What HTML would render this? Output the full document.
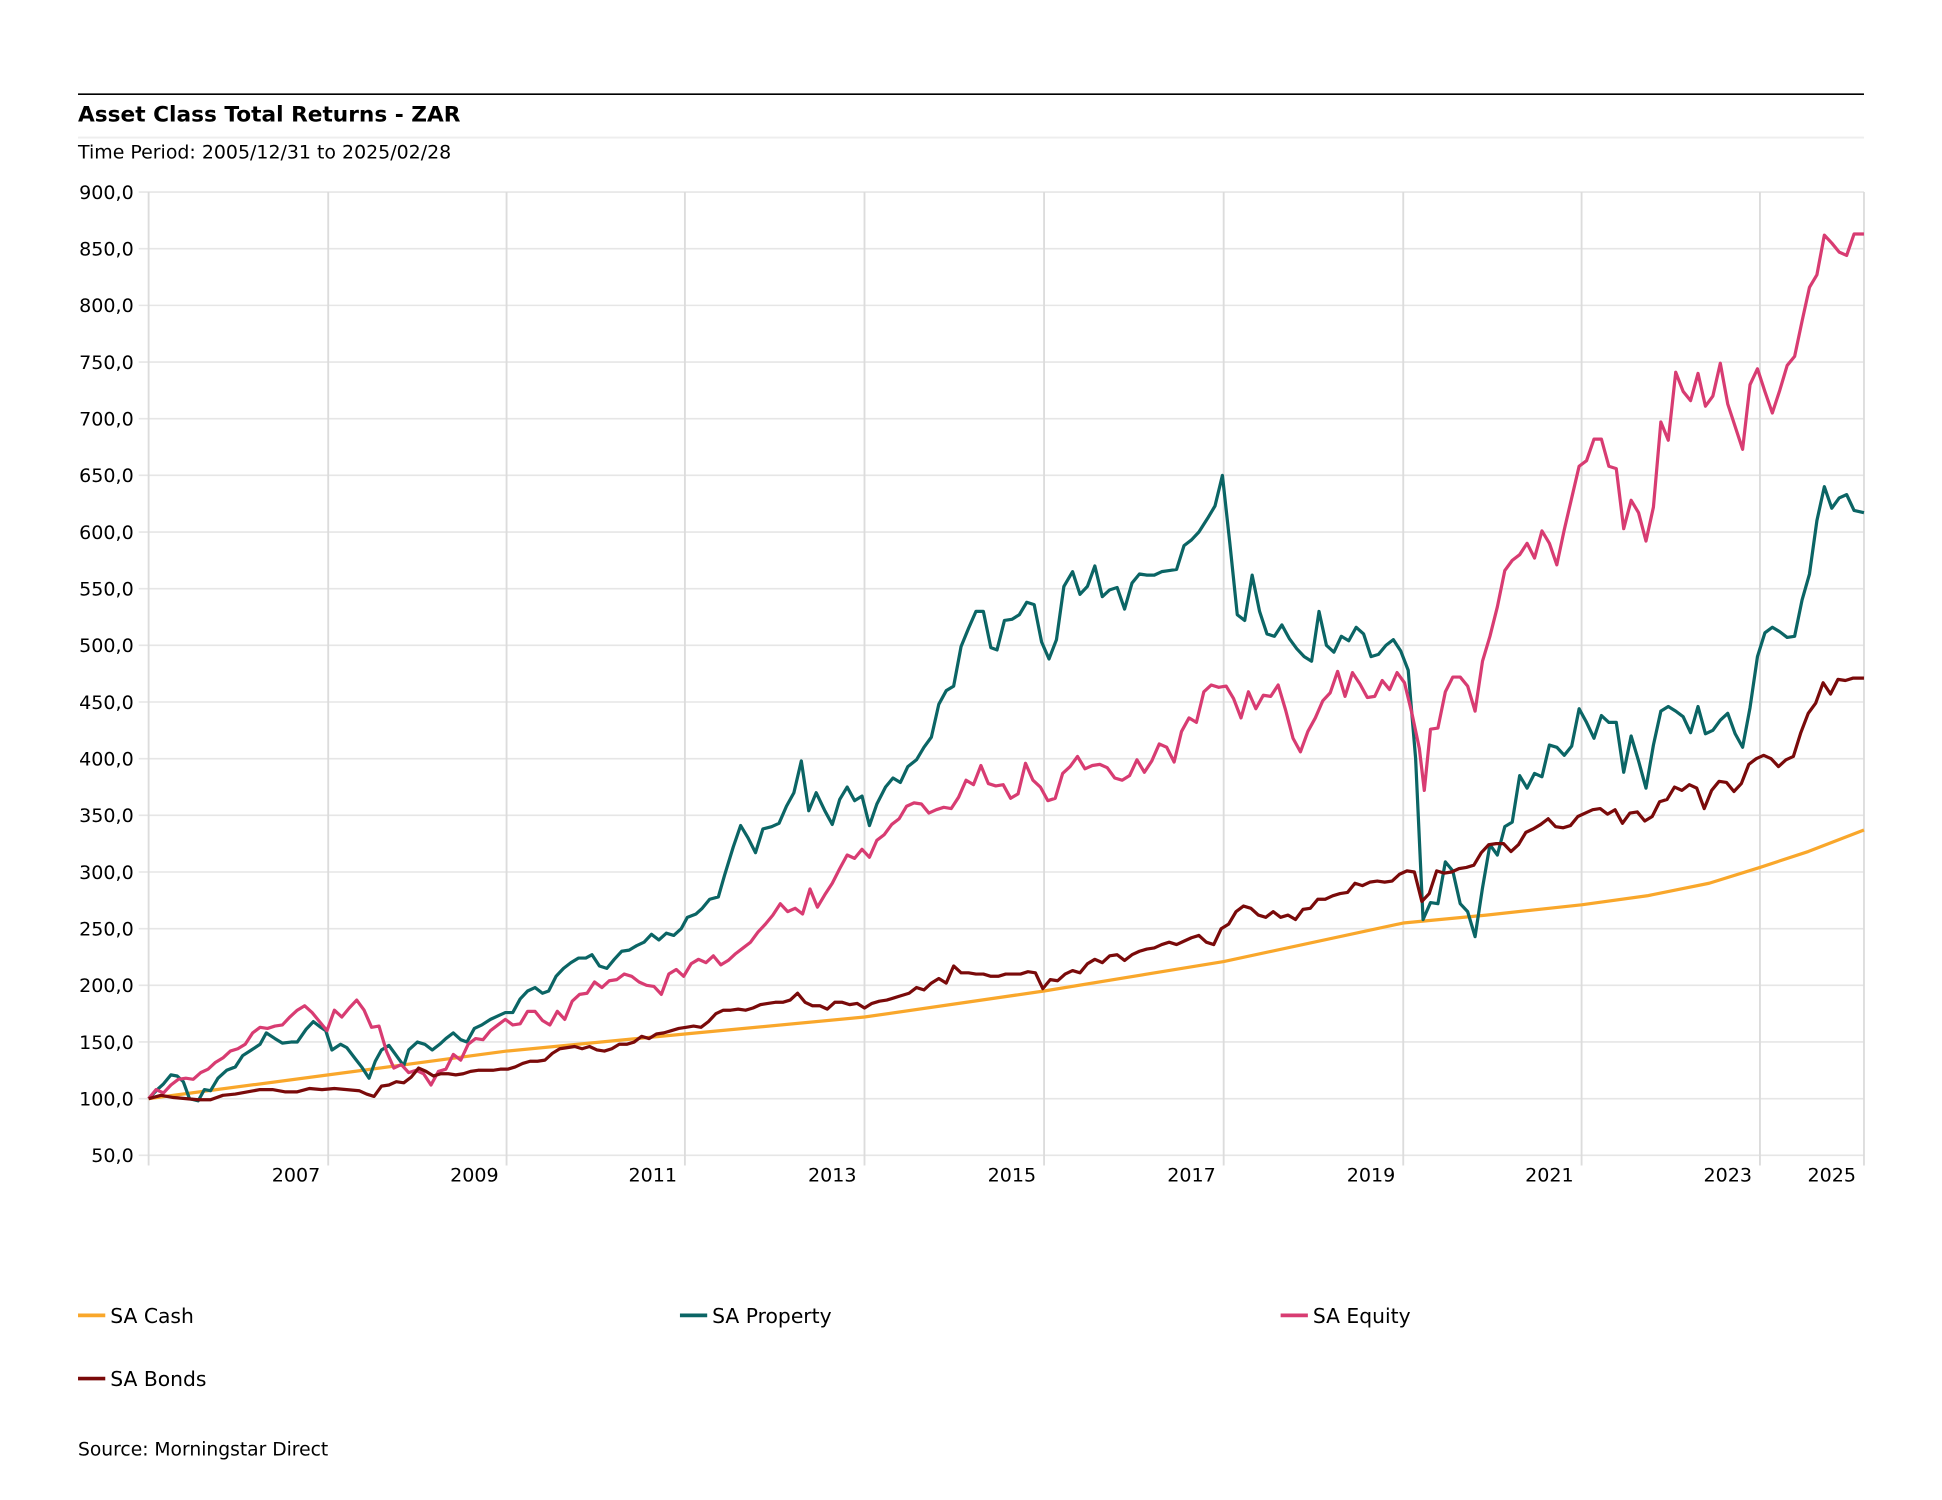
<!DOCTYPE html>
<html><head><meta charset="utf-8">
<style>
html,body{margin:0;padding:0;background:#fff;}
svg{display:block;}
text{font-family:"DejaVu Sans","Liberation Sans",sans-serif;fill:#000;}
</style></head>
<body>
<svg id="c" width="1942" height="1500" viewBox="0 0 1568 1211" xmlns="http://www.w3.org/2000/svg">
<line x1="63" y1="76" x2="1505" y2="76" stroke="#000" stroke-width="1.3"/>
<text x="63" y="98" font-size="17.5" font-weight="bold">Asset Class Total Returns - ZAR</text>
<line x1="63" y1="111" x2="1505" y2="111" stroke="#eee" stroke-width="1.5"/>
<text x="63" y="128" font-size="15.3">Time Period: 2005/12/31 to 2025/02/28</text>
<g id="grid"></g>
<g id="lines" fill="none" stroke-width="2.6" stroke-linejoin="round"></g>
<g font-size="16.4">
<line x1="63" y1="1062" x2="85" y2="1062" stroke="#F9A72B" stroke-width="3"/><text x="89" y="1068">SA Cash</text>
<line x1="549" y1="1062" x2="571" y2="1062" stroke="#0B6565" stroke-width="3"/><text x="575" y="1068">SA Property</text>
<line x1="1034" y1="1062" x2="1056" y2="1062" stroke="#D83C72" stroke-width="3"/><text x="1060" y="1068">SA Equity</text>
<line x1="63" y1="1113" x2="85" y2="1113" stroke="#7A0A0A" stroke-width="3"/><text x="89" y="1119">SA Bonds</text>
</g>
<text x="63" y="1175" font-size="15.1">Source: Morningstar Direct</text>
</svg>
<script>
function Y(v){return 887-(v-100)*0.915;}
var g=document.getElementById('grid'),h='';
for(var v=50;v<=900;v+=50){var y=Y(v);
h+='<line x1="112" y1="'+y+'" x2="1505" y2="'+y+'" stroke="#e6e6e6" stroke-width="1.3"/>';
h+='<text x="108" y="'+(y+5.5)+'" font-size="15.4" text-anchor="end">'+v+',0</text>';}
var gx=[120,265,409,553,698,843,988,1133,1277,1421,1505];
gx.forEach(function(x){h+='<line x1="'+x+'" y1="155" x2="'+x+'" y2="941" stroke="#dcdcdc" stroke-width="1.5"/>';});
var lab=[[239,'2007'],[383,'2009'],[527,'2011'],[672,'2013'],[817,'2015'],[962,'2017'],[1107,'2019'],[1251,'2021'],[1395,'2023'],[1479,'2025']];
lab.forEach(function(l){h+='<text x="'+l[0]+'" y="954" font-size="15.4" text-anchor="middle">'+l[1]+'</text>';});
g.innerHTML=h;
function P(s,c){var a=s.trim().split(/[ ,]+/).map(Number),p=[];for(var i=0;i<a.length;i+=2)p.push(a[i]+','+Y(a[i+1]).toFixed(1));
return '<polyline stroke="'+c+'" points="'+p.join(' ')+'"/>';}
var cash="120 100,265 121,409 142,553 157,698 172,843 195,988 221,1133 255,1200 262,1277 271,1330 279,1380 290,1421 304,1460 318,1505 337";
var prop="120 100,127 108,132 113,138 121,143 120,148 115,153 100,160 98,165 108,170 107,176 118,183 125,190 128,196 138,203 143,210 148,215 158,222 153,228 149,235 150,240 150,247 161,253 168,259 163,263 160,268 143,275 148,280 145,287 135,292 128,298 118,303 133,308 143,314 147,320 138,326 129,330 143,337 150,343 148,349 143,355 148,360 153,366 158,372 152,377 150,383 162,389 165,396 170,402 173,408 176,414 176,420 188,426 195,432 198,438 193,443 195,449 208,455 215,461 220,467 224,473 224,478 227,484 217,490 215,496 223,502 230,508 231,514 235,520 238,526 245,532 240,538 246,544 244,550 250,555 260,562 263,567 268,573 276,580 278,585 297,592 322,598 341,604 330,610 317,616 338,623 340,629 343,635 358,641 370,647 398,653 354,659 370,666 354,672 342,678 364,684 375,690 363,696 367,702 341,708 360,715 375,721 383,727 379,733 393,740 399,746 410,752 419,758 448,764 460,770 464,776 499,782 515,788 530,794 530,800 498,805 496,811 522,817 523,823 527,829 538,835 536,841 503,847 488,853 505,859 552,866 565,872 545,878 552,884 570,890 543,896 549,902 551,908 532,914 555,920 563,926 562,932 562,938 565,944 566,950 567,956 588,962 593,968 600,975 612,981 623,987 650,993 590,999 527,1005 522,1011 562,1017 530,1023 510,1029 508,1035 518,1041 506,1047 497,1053 490,1059 486,1065 530,1071 500,1077 494,1083 508,1089 504,1095 516,1101 510,1107 490,1113 492,1119 500,1125 505,1131 495,1137 478,1143 400,1149 258,1155 273,1161 272,1167 309,1173 301,1179 272,1185 265,1191 243,1197 286,1203 324,1209 315,1215 340,1221 344,1227 385,1233 374,1239 387,1245 384,1251 412,1257 410,1263 403,1269 411,1275 444,1281 432,1287 418,1293 438,1299 432,1305 432,1311 388,1317 420,1323 398,1329 374,1335 412,1341 442,1347 446,1353 442,1359 437,1365 423,1371 446,1377 422,1383 425,1389 434,1395 440,1401 422,1407 410,1413 445,1419 490,1425 511,1431 516,1437 512,1443 507,1449 508,1455 540,1461 563,1467 610,1473 640,1479 621,1485 630,1491 633,1497 619,1505 617";
var eq="120 100,126 108,132 105,138 112,144 117,150 118,156 117,162 123,168 126,174 132,180 136,186 142,192 144,198 148,204 158,210 163,216 162,222 164,228 165,234 172,240 178,246 182,252 176,258 168,264 160,270 178,276 172,282 180,288 187,294 178,300 163,306 164,312 142,318 127,324 130,330 123,336 125,342 122,348 112,354 124,360 126,366 139,372 134,378 148,384 153,390 152,396 160,402 165,408 170,414 165,420 166,426 177,432 177,438 169,444 165,450 177,456 170,462 186,468 192,474 193,480 203,486 198,492 204,498 205,504 210,510 208,516 203,522 200,528 199,534 192,540 210,546 214,552 208,558 219,564 223,570 220,576 226,582 218,588 222,594 228,600 233,606 238,612 247,618 254,624 262,630 272,636 265,642 268,648 263,654 285,660 269,666 280,672 290,678 303,684 315,690 312,696 320,702 313,708 328,714 333,720 342,726 347,732 358,738 361,744 360,750 352,756 355,762 357,768 356,774 366,780 381,786 377,792 394,798 378,804 376,810 377,816 365,822 369,828 396,834 381,840 375,846 363,852 365,858 387,864 393,870 402,876 391,882 394,888 395,894 392,900 383,906 381,912 385,918 399,924 388,930 398,936 413,942 410,948 397,954 424,960 436,966 432,972 459,978 465,984 463,990 464,996 453,1002 436,1008 459,1014 444,1020 456,1026 455,1032 465,1038 443,1044 418,1050 406,1056 424,1062 436,1068 451,1074 458,1080 477,1086 455,1092 476,1098 466,1104 454,1110 455,1116 469,1122 461,1128 476,1134 467,1140 440,1146 409,1150 372,1155 426,1161 427,1167 459,1173 472,1179 472,1185 464,1191 442,1197 486,1203 508,1209 534,1215 566,1221 575,1227 580,1233 590,1239 577,1245 601,1251 590,1257 571,1263 602,1269 630,1275 658,1281 663,1287 682,1293 682,1299 658,1305 656,1311 603,1317 628,1323 617,1329 592,1335 622,1341 697,1347 681,1353 741,1359 724,1365 716,1371 740,1377 711,1383 720,1389 749,1395 713,1401 693,1407 673,1413 730,1419 744,1425 724,1431 705,1437 725,1443 747,1449 755,1455 786,1461 816,1467 827,1473 862,1479 855,1485 847,1491 844,1497 863,1505 863";
var bd="120 100,130 103,140 101,150 100,160 99,170 99,180 103,190 104,200 106,210 108,220 108,230 106,240 106,250 109,260 108,270 109,280 108,290 107,296 104,302 102,308 111,314 112,320 115,326 114,332 119,338 127,344 124,350 120,356 122,362 122,368 121,374 122,380 124,386 125,392 125,398 125,404 126,410 126,416 128,422 131,428 133,434 133,440 134,446 140,452 144,458 145,464 146,470 144,476 146,482 143,488 142,494 144,500 148,506 148,512 150,518 155,524 153,530 157,536 158,542 160,548 162,554 163,560 164,566 163,572 168,578 175,584 178,590 178,596 179,602 178,608 180,614 183,620 184,626 185,632 185,638 187,644 193,650 185,656 182,662 182,668 179,674 185,680 185,686 183,692 184,698 180,704 184,710 186,716 187,722 189,728 191,734 193,740 198,746 196,752 202,758 206,764 202,770 217,776 211,782 211,788 210,794 210,800 208,806 208,812 210,818 210,824 210,830 212,836 211,842 197,848 205,854 204,860 210,866 213,872 211,878 219,884 223,890 220,896 226,902 227,908 222,914 227,920 230,926 232,932 233,938 236,944 238,950 236,956 239,962 242,968 244,974 238,980 236,986 250,992 254,998 265,1004 270,1010 268,1016 262,1022 260,1028 265,1034 260,1040 262,1046 258,1052 267,1058 268,1064 276,1070 276,1076 279,1082 281,1088 282,1094 290,1100 288,1106 291,1112 292,1118 291,1124 292,1130 298,1136 301,1142 300,1148 274,1154 281,1160 301,1166 299,1172 300,1178 303,1184 304,1190 306,1196 317,1202 324,1208 325,1214 325,1220 318,1226 324,1232 335,1238 338,1244 342,1250 347,1256 340,1262 339,1268 341,1274 349,1280 352,1286 355,1292 356,1298 351,1304 355,1310 343,1316 352,1322 353,1328 345,1334 349,1340 362,1346 364,1352 375,1358 372,1364 377,1370 374,1376 356,1382 372,1388 380,1394 379,1400 371,1406 378,1412 395,1418 400,1424 403,1430 400,1436 393,1442 399,1448 402,1454 423,1460 440,1466 449,1472 467,1478 457,1484 470,1490 469,1496 471,1505 471";
document.getElementById('lines').innerHTML=P(cash,'#F9A72B')+P(prop,'#0B6565')+P(eq,'#D83C72')+P(bd,'#7A0A0A');
</script>
</body></html>
